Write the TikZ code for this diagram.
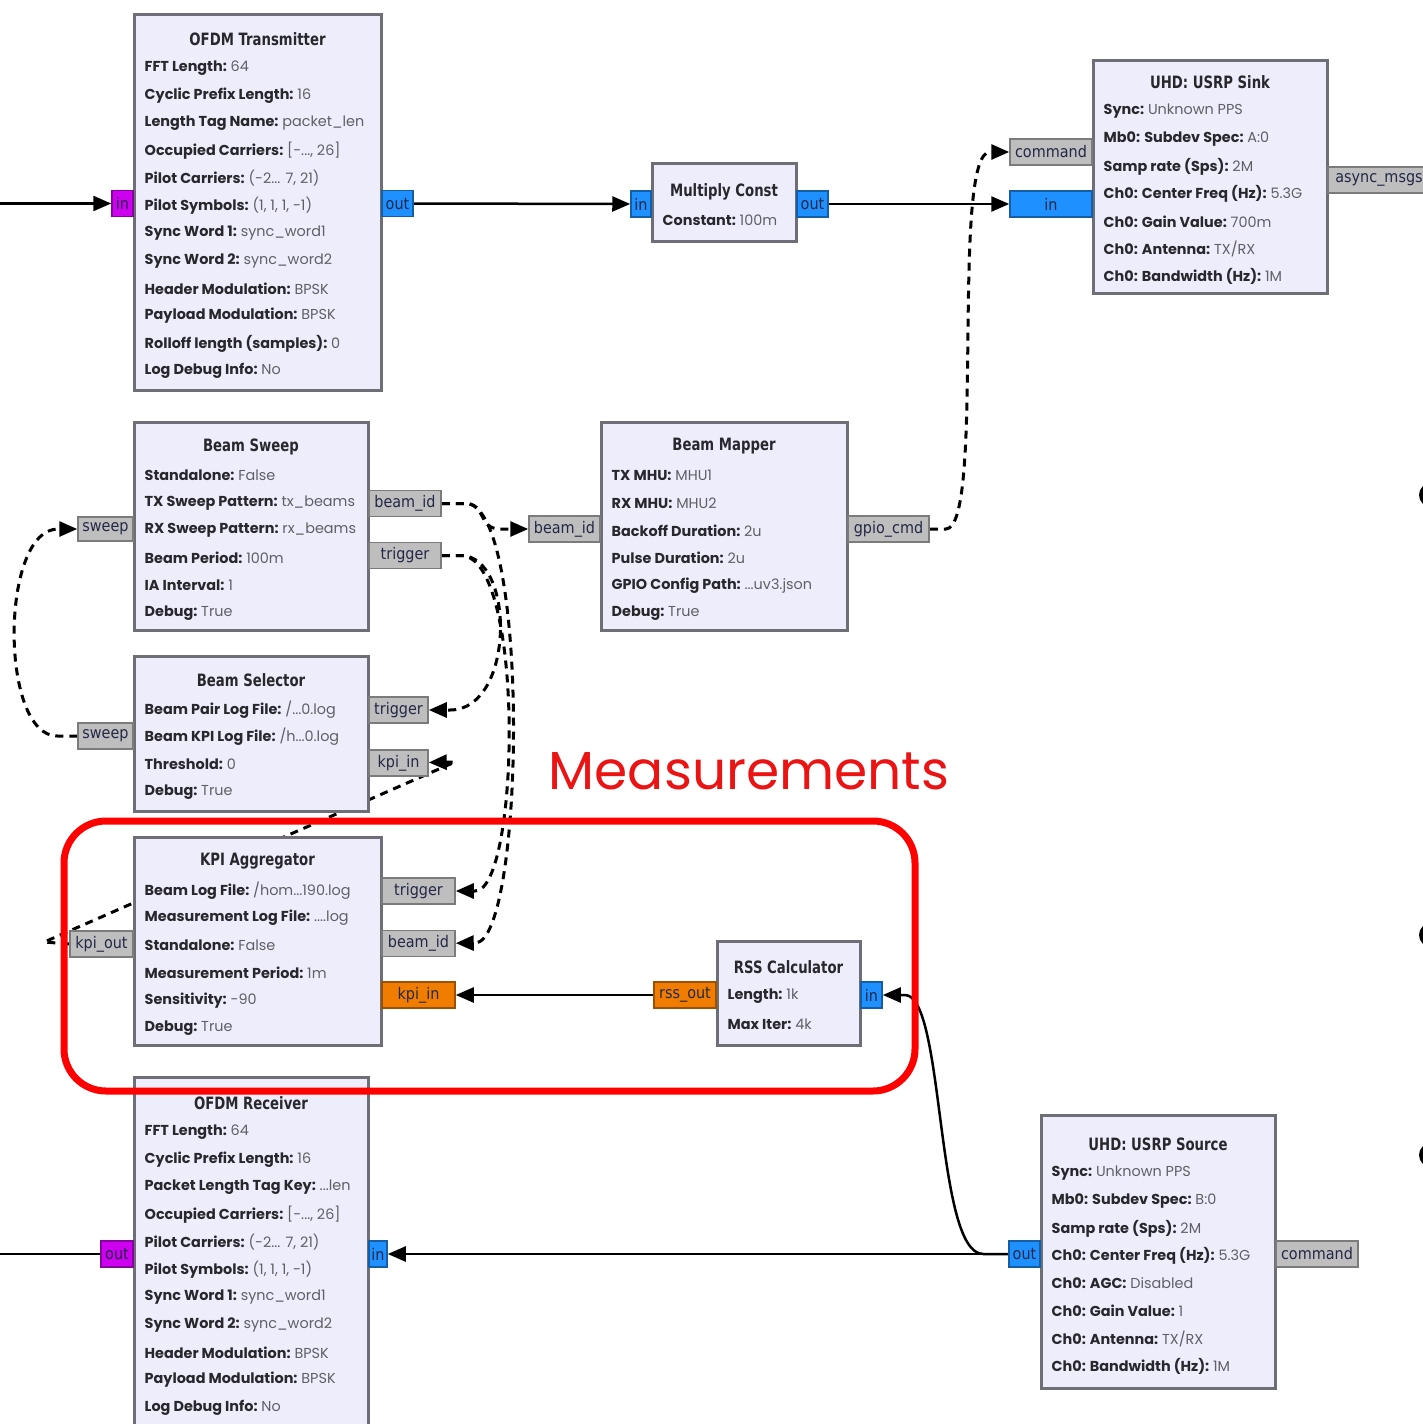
\documentclass[tikz,border=0pt]{standalone}
\usepackage{fontspec}
\setmainfont{Poppins}
\newfontfamily\titlefont[FakeStretch=0.78]{DejaVu Sans}
\newfontfamily\portfont[FakeStretch=0.9]{DejaVu Sans}
\usepackage{tikz}
\usetikzlibrary{positioning}
\usetikzlibrary{calc,backgrounds}
\usetikzlibrary{arrows.meta}
\definecolor{blkfill}{RGB}{238,237,252}
\definecolor{blkline}{RGB}{110,110,118}
\definecolor{keycol}{RGB}{40,40,44}
\definecolor{valcol}{RGB}{95,95,100}
\definecolor{porttext}{RGB}{35,40,70}
\definecolor{pgrey}{RGB}{190,190,190}
\definecolor{pblue}{RGB}{30,144,255}
\definecolor{pmag}{RGB}{205,0,240}
\definecolor{porange}{RGB}{240,125,0}
\definecolor{measred}{RGB}{235,20,20}
\tikzset{
  blk/.style={draw=blkline, fill=blkfill, line width=3pt, inner sep=0pt},
  btitle/.style={font=\titlefont\bfseries\fontsize{17}{17}\selectfont, text=keycol, inner sep=0pt},
  bparam/.style={anchor=west, font=\fontsize{14.4}{14.4}\selectfont, text=valcol, inner sep=0pt},
  port/.style={draw=#1!65!black, fill=#1, line width=1.5pt, inner sep=0pt,
    font=\portfont\fontsize{16}{16}\selectfont, text=porttext, minimum height=26},
  wire/.style={line width=2.5pt, -{Triangle[length=18pt,width=15pt]}},
  msg/.style={wire, dash pattern=on 8pt off 6pt, line width=3pt},
}
% block title and parameter lines
\newcommand{\fgblock}[4]{%
  \node[btitle] (#1-t) at ($(#1.north)+(0,#2+3)$) {#3};
  \foreach \k/\v [count=\i] in {#4}{
    \node[bparam] (#1-p\i) at ($(#1.north west)+(12,#2+32+27.5*\i-27.5)$)
      {\textcolor{keycol}{\bfseries\k:}~\v};
  }
}

\begin{document}
\begin{tikzpicture}[x=1pt,y=-1pt]
\useasboundingbox (0,0) rectangle (1423,1424);

% --- Blocks ---
\node[blk, minimum width=247, minimum height=376] (tx) at (257.5,202) {};
\fgblock{tx}{24}{OFDM Transmitter}{{FFT Length}/64, {Cyclic Prefix Length}/16,
  {Length Tag Name}/packet\_len, {Occupied Carriers}/{[-..., 26]},
  {Pilot Carriers}/{(-2... 7, 21)}, {Pilot Symbols}/{(1, 1, 1, -1)},
  {Sync Word 1}/sync\_word1, {Sync Word 2}/sync\_word2,
  {Header Modulation}/BPSK, {Payload Modulation}/BPSK,
  {Rolloff length (samples)}/0, {Log Debug Info}/No}

\node[blk, minimum width=144, minimum height=78] (mc) at (724,202) {};
\fgblock{mc}{27}{Multiply Const}{{Constant}/100m}

\node[blk, minimum width=234, minimum height=233] (sink) at (1210,176.5) {};
\fgblock{sink}{21}{UHD: USRP Sink}{{Sync}/{Unknown PPS}, {Mb0: Subdev Spec}/{A:0},
  {Samp rate (Sps)}/2M, {Ch0: Center Freq (Hz)}/5.3G, {Ch0: Gain Value}/700m,
  {Ch0: Antenna}/{TX/RX}, {Ch0: Bandwidth (Hz)}/1M}

\node[blk, minimum width=234, minimum height=208] (bs) at (251,526) {};
\fgblock{bs}{23}{Beam Sweep}{{Standalone}/False, {TX Sweep Pattern}/tx\_beams,
  {RX Sweep Pattern}/rx\_beams, {Beam Period}/100m, {IA Interval}/1, {Debug}/True}

\node[blk, minimum width=246, minimum height=208] (bm) at (724,526) {};
\fgblock{bm}{23}{Beam Mapper}{{TX MHU}/MHU1, {RX MHU}/MHU2, {Backoff Duration}/2u,
  {Pulse Duration}/2u, {GPIO Config Path}/{...uv3.json}, {Debug}/True}

\node[blk, minimum width=234, minimum height=155] (sel) at (251,733.5) {};
\fgblock{sel}{23}{Beam Selector}{{Beam Pair Log File}/{/...0.log},
  {Beam KPI Log File}/{/h...0.log}, {Threshold}/0, {Debug}/True}

\node[blk, minimum width=247, minimum height=208] (kpi) at (257.5,941) {};
\fgblock{kpi}{23}{KPI Aggregator}{{Beam Log File}/{/hom...190.log},
  {Measurement Log File}/{....log}, {Standalone}/False,
  {Measurement Period}/1m, {Sensitivity}/-90, {Debug}/True}

\node[blk, minimum width=143, minimum height=104] (rss) at (788.5,993) {};
\fgblock{rss}{25}{RSS Calculator}{{Length}/1k, {Max Iter}/4k}

\node[blk, minimum width=234, minimum height=370] (rx) at (251,1262) {};
\fgblock{rx}{25}{OFDM Receiver}{{FFT Length}/64, {Cyclic Prefix Length}/16,
  {Packet Length Tag Key}/{...len}, {Occupied Carriers}/{[-..., 26]},
  {Pilot Carriers}/{(-2... 7, 21)}, {Pilot Symbols}/{(1, 1, 1, -1)},
  {Sync Word 1}/sync\_word1, {Sync Word 2}/sync\_word2,
  {Header Modulation}/BPSK, {Payload Modulation}/BPSK, {Log Debug Info}/No}

\node[blk, minimum width=234, minimum height=273] (src) at (1158,1251.5) {};
\fgblock{src}{28}{UHD: USRP Source}{{Sync}/{Unknown PPS}, {Mb0: Subdev Spec}/{B:0},
  {Samp rate (Sps)}/2M, {Ch0: Center Freq (Hz)}/5.3G, {Ch0: AGC}/Disabled,
  {Ch0: Gain Value}/1, {Ch0: Antenna}/{TX/RX}, {Ch0: Bandwidth (Hz)}/1M}

% --- Ports ---
\node[port=pmag, minimum width=21] (tx-in) at (122.5,203.5) {in};
\node[port=pblue, minimum width=31] (tx-out) at (397.5,203.5) {out};
\node[port=pblue, minimum width=20] (mc-in) at (641,204) {in};
\node[port=pblue, minimum width=31] (mc-out) at (812.5,204) {out};
\node[port=pgrey, minimum width=82] (sink-cmd) at (1051,152) {command};
\node[port=pblue, minimum width=82] (sink-in) at (1051,204) {in};
\node[port=pgrey, minimum width=102] (sink-async) at (1379,180) {async\_msgs};
\node[port=pgrey, minimum width=55, minimum height=24] (bs-sweep) at (105.5,529) {sweep};
\node[port=pgrey, minimum width=72] (bs-beam) at (405,503.5) {beam\_id};
\node[port=pgrey, minimum width=72] (bs-trig) at (405,555.5) {trigger};
\node[port=pgrey, minimum width=71] (bm-beam) at (564.5,529) {beam\_id};
\node[port=pgrey, minimum width=81] (bm-gpio) at (888.5,529) {gpio\_cmd};
\node[port=pgrey, minimum width=55] (sel-sweep) at (105.5,736) {sweep};
\node[port=pgrey, minimum width=59] (sel-trig) at (398.5,710) {trigger};
\node[port=pgrey, minimum width=59] (sel-kpi) at (398.5,763) {kpi\_in};
\node[port=pgrey, minimum width=63] (kpi-out) at (101.5,944) {kpi\_out};
\node[port=pgrey, minimum width=73] (kpi-trig) at (418.5,891) {trigger};
\node[port=pgrey, minimum width=73] (kpi-beam) at (418.5,943.5) {beam\_id};
\node[port=porange, minimum width=73] (kpi-in) at (418.5,995) {kpi\_in};
\node[port=porange, minimum width=62] (rss-out) at (685,995) {rss\_out};
\node[port=pblue, minimum width=21] (rss-in) at (871.5,995) {in};
\node[port=pmag, minimum width=32] (rx-out) at (117,1254) {out};
\node[port=pblue, minimum width=18] (rx-in) at (378,1254) {in};
\node[port=pblue, minimum width=31] (src-out) at (1024.5,1254) {out};
\node[port=pgrey, minimum width=82] (src-cmd) at (1317,1254) {command};

\coordinate (txsrc) at (0,203.5);
\coordinate (rxsink) at (0,1254);

% --- Connections (behind the blocks) ---
\begin{scope}[on background layer]
\fill[white] (0,0) rectangle (1423,1424);
\draw[wire] (txsrc) -- (tx-in);
\draw[wire] (tx-out) -- (mc-in);
\draw[wire] (mc-out) -- (sink-in);
\draw[wire] (rss-out) -- (kpi-in);
\draw[wire] (src-out) -- (rx-in);
\draw[wire] (src-out.west) -- ++(-25,0) .. controls (935,1254) and (945,995) .. (905,995) -- (rss-in);
\draw[line width=2.5pt] (rx-out) -- (rxsink);

\draw[msg] (bm-gpio.east) -- ++(16,0) .. controls +(40,0) and (950,152) .. (990,152) -- (sink-cmd);
\draw[msg] (bs-beam.east) -- ++(24,0) .. controls +(20,0) and (478,529) .. (500,529) -- (bm-beam);
\draw[msg] (bs-beam.east) -- ++(24,0) .. controls +(65,0) and (525,943) .. (475,943) -- (kpi-beam);
\draw[msg] (bs-trig.east) -- ++(19,0) .. controls +(55,0) and (515,710) .. (450,710) -- (sel-trig);
\draw[msg] (bs-trig.east) -- ++(19,0) .. controls +(65,0) and (520,891) .. (475,891) -- (kpi-trig);
\draw[msg] (sel-sweep.west) -- ++(-20,0) .. controls +(-58,0) and (0,529) .. (58,529) -- (bs-sweep);
\draw[msg] (kpi-out.west) -- ++(-25,-2) -- (455,762) -- (sel-kpi);
\end{scope}

% --- Measurements group ---
\node[draw=red, line width=7pt, rounded corners=42pt, minimum width=851, minimum height=270] (meas) at (489.5,956) {};
\node[text=measred, font=\fontsize{53.5}{53.5}\selectfont, inner sep=0pt] (meas-lbl) at (749,771) {Measurements};

% cut-off bullets at the right edge
\foreach \y in {495,935,1155}
  \fill (1431,\y) circle (12);

\end{tikzpicture}
\end{document}
